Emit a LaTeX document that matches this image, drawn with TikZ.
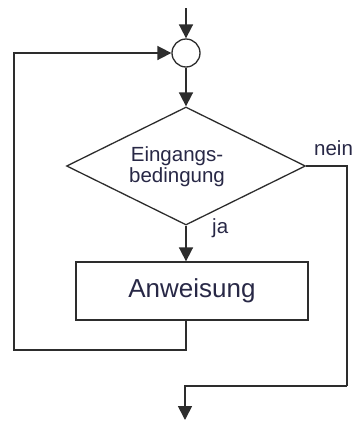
\documentclass[tikz,border=0pt]{standalone}
\usepackage{fontspec}
\setmainfont{Liberation Sans}
\usetikzlibrary{arrows.meta,shapes.geometric}
\definecolor{linecol}{RGB}{45,45,45}
\definecolor{txtcol}{RGB}{40,40,70}
\tikzset{
  flow/.style={draw=linecol, line width=1.7pt},
  flowarrow/.style={flow, -{Triangle[length=14pt,width=14pt]}},
  shapeline/.style={draw=linecol, line width=1.3pt, fill=white},
  smalltxt/.style={text=txtcol, inner sep=0pt, font=\fontsize{20.5}{21}\selectfont},
  bigtxt/.style={text=txtcol, font=\fontsize{26}{28}\selectfont}
}
\begin{document}
\begin{tikzpicture}[x=1pt,y=-1pt]
  \useasboundingbox (0,0) rectangle (358,421);

  % junction circle, condition diamond, statement box
  \node[shapeline, circle, minimum size=28pt, inner sep=0pt] (join) at (186,53) {};
  \node[shapeline, diamond, minimum width=239pt, minimum height=118pt, inner sep=0pt] (cond) at (186,166) {};
  \node[smalltxt, align=center] (condtext) at (177,166.5) {Eingangs-\\bedingung};
  \node[shapeline, rectangle, minimum width=232pt, minimum height=58pt, bigtxt] (body) at (192,291) {Anweisung};

  % branch labels
  \node[smalltxt, anchor=base west] (nein) at (314,155) {nein};
  \node[smalltxt, anchor=base west] (ja) at (212,233) {ja};

  % free ends and corner points
  \coordinate (start) at (186,8);
  \coordinate (loopcorner) at (14,350);
  \coordinate (exitcorner) at (347,386);
  \coordinate (finish) at (185,420);

  % main path
  \draw[flowarrow] (start) -- (join.north);
  \draw[flowarrow] (join.south) -- (cond.north);
  \draw[flowarrow] (cond.south) -- (cond.south |- body.north);

  % loop back to the junction
  \draw[flowarrow] (body.south -| join.south) |- (loopcorner) |- (join.west);

  % exit when the condition fails
  \draw[flow] (cond.east) -| (exitcorner);
  \draw[flowarrow] (exitcorner) -| (finish);
\end{tikzpicture}
\end{document}
